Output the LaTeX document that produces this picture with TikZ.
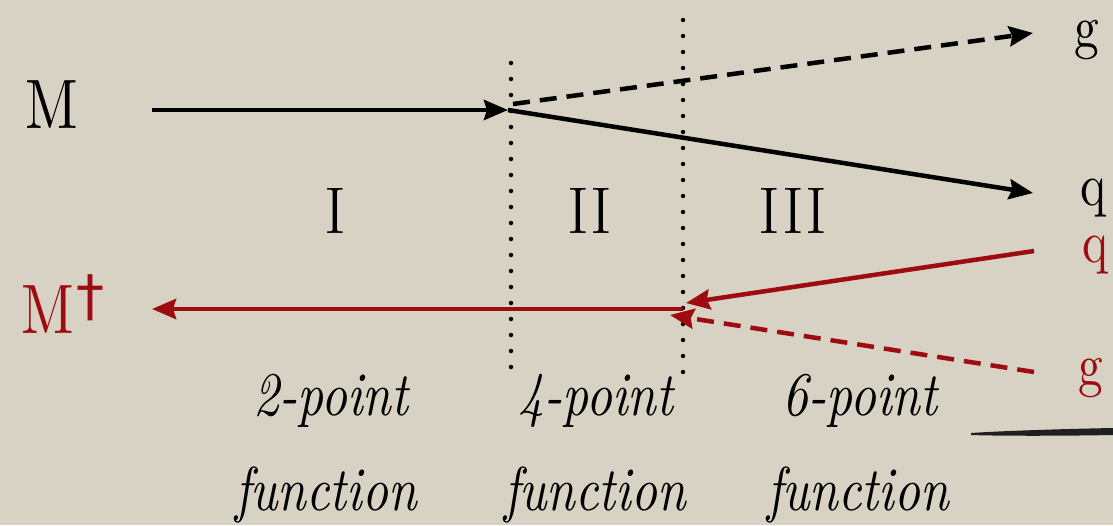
\documentclass[tikz,border=0pt]{standalone}
\usepackage{fontspec}
\newfontfamily\handfont{lmroman10-regular}[Extension=.otf, ItalicFont=lmroman10-italic, FakeStretch=0.82]
\newfontfamily\symfont{DejaVu Sans}
\usetikzlibrary{arrows.meta}
\definecolor{bg}{RGB}{215,210,196}
\definecolor{dred}{RGB}{158,12,18}
\begin{document}
\begin{tikzpicture}[x=1pt,y=-1pt,
  wire/.style={line width=4.5pt},
  arr/.style={-{Stealth[length=24pt,width=20pt,inset=3pt]}},
  divider/.style={line width=4.5pt, line cap=round, dash pattern=on 0pt off 16pt},
  dsh/.style={dash pattern=on 17pt off 10pt},
  lbl/.style={inner sep=0pt, anchor=base, font=\handfont\itshape\fontsize{62}{62}\selectfont},
  part/.style={inner sep=0pt, anchor=base west, font=\handfont\fontsize{60}{60}\selectfont},
  big/.style={inner sep=0pt, anchor=base west, font=\handfont\fontsize{70}{70}\selectfont},
  roman/.style={inner sep=0pt, anchor=base, font=\fontsize{66}{66}\selectfont}
]
\useasboundingbox (0,0) rectangle (1113,525);
\fill[bg] (0,0) rectangle (1113,525);

% dividers
\coordinate (d1t) at (511,63);
\coordinate (d1b) at (511,368);
\coordinate (d2t) at (683,20);
\coordinate (d2b) at (683,373);
\draw[divider] (d1t) -- (d1b);
\draw[divider] (d2t) -- (d2b);

% labels
\node[big] (M) at (25,128) {M};
\node[big, text=dred] (Md) at (21,333) {M\hspace{3pt}{\symfont\fontsize{56}{56}\selectfont\raisebox{18pt}{†}}};
\node[part] (g1) at (1074,47) {g};
\node[part] (q1) at (1080,205) {q};
\node[part, text=dred] (q2) at (1082,262) {q};
\node[part, text=dred] (g2) at (1078,385) {g};

\node[roman] (r1) at (335,233) {I};
\node[roman] (r2) at (590,233) {II};
\node[roman] (r3) at (793,233) {III};

\node[lbl] (p2) at (331,415) {2-point};
\node[lbl] (p4) at (596,415) {4-point};
\node[lbl] (p6) at (860,415) {6-point};
\node[lbl] (f2) at (326,510) {function};
\node[lbl] (f4) at (595,510) {function};
\node[lbl] (f6) at (858,510) {function};

% black lines
\coordinate (Ms) at (152,110);
\coordinate (J1) at (508,110);
\coordinate (J1d) at (513,104);
\coordinate (gt) at (1033,33);
\coordinate (qt) at (1033,193);
\draw[wire, arr] (Ms) -- (J1);
\draw[wire, arr] (J1) -- (qt);
\draw[wire, dsh, arr] (J1d) -- (gt);

% red lines
\coordinate (rqs) at (1034,251);
\coordinate (rgs) at (1034,372);
\coordinate (J2) at (683,309);
\coordinate (J2q) at (686,303);
\coordinate (J2g) at (670,315);
\coordinate (Mde) at (152,309);
\draw[wire, dred, arr] (rqs) -- (J2q);
\draw[wire, dred, dsh, arr] (rgs) -- (J2g);
\draw[wire, dred, arr] (J2) -- (Mde);

% brush stroke
\fill[black!88] (971,433) .. controls (1000,431) and (1060,429) .. (1113,428) -- (1113,435) .. controls (1060,436) and (1000,436) .. (971,435) -- cycle;
\end{tikzpicture}
\end{document}
